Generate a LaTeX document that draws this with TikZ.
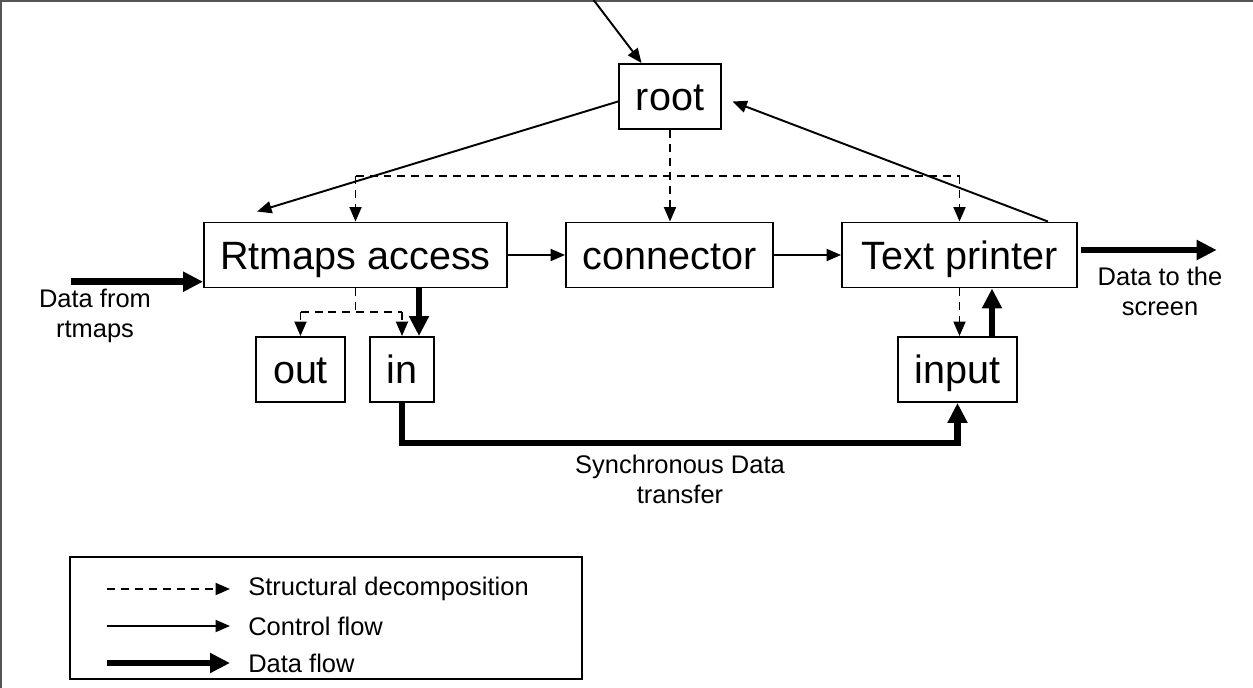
\documentclass[tikz,border=0pt]{standalone}
\usepackage{fontspec}
\setmainfont{Liberation Sans}
\usetikzlibrary{arrows.meta,calc,positioning}
\definecolor{framegray}{RGB}{85,85,85}

\begin{document}
\begin{tikzpicture}[x=0.02cm, y=-0.02cm,
  every node/.style={inner sep=0pt},
  block/.style={draw, line width=1.1pt, font=\fontsize{22.5}{27}\selectfont, minimum height=1.3cm,
    text height=0.57cm, text depth=0cm},
  lbl/.style={font=\fontsize{14.5}{17}\selectfont, align=center},
  ctrl/.style={line width=1.1pt, -{Triangle[length=0.29cm, width=0.24cm]}},
  struct/.style={ctrl, dash pattern=on 0.16cm off 0.12cm},
  dashline/.style={line width=1.1pt, dash pattern=on 0.16cm off 0.12cm},
  datafl/.style={line width=3.9pt, -{Triangle[length=0.4cm, width=0.38cm]}}
]
  \useasboundingbox (0,0) rectangle (1253,688);
  \draw[framegray, line width=1.1pt] (1,688) -- (1,1) -- (1253,1);

  \def\rowA{96.5}\def\rowB{255}\def\rowC{369.5}

  % blocks
  \node[block, minimum width=2.04cm] (root) at (670,\rowA) {root};
  \node[block, minimum width=6.06cm] (rtmaps) at (355.5,\rowB) {Rtmaps access};
  \node[block, minimum width=4.14cm] (connector) at (669.5,\rowB) {connector};
  \node[block, minimum width=4.7cm] (printer) at (959.5,\rowB) {Text printer};
  \node[block, minimum width=1.78cm] (outport) at (300.5,\rowC) {out};
  \node[block, minimum width=1.28cm] (inport) at (402,\rowC) {in};
  \node[block, minimum width=2.38cm] (input) at (957.5,\rowC) {input};

  % helper points
  \coordinate (entry) at (593.6,0);
  \coordinate (bus) at (0,176);
  \coordinate (sub) at (0,312);
  \coordinate (sync) at (0,443);
  \coordinate (source) at (70.7,281.7);
  \coordinate (screen) at (1216.7,250);

  % control flow
  \draw[ctrl] (entry) -- ([xshift=0.47cm]root.north west);
  \draw[ctrl] ([yshift=-0.1cm]root.west) -- ([xshift=1.08cm, yshift=0.2cm]rtmaps.north west);
  \draw[ctrl] ([xshift=-0.6cm]printer.north east) -- ([xshift=0.21cm, yshift=-0.1cm]root.east);
  \draw[ctrl] (rtmaps) -- (connector);
  \draw[ctrl] (connector) -- (printer);

  % structural decomposition
  \draw[struct] (root.south) -- (root.south |- connector.north);
  \draw[dashline] (rtmaps.north |- bus) -- (printer.north |- bus);
  \draw[struct] (rtmaps.north |- bus) -- (rtmaps.north);
  \draw[struct] (printer.north |- bus) -- (printer.north);
  \draw[dashline] (rtmaps.south) -- (rtmaps.south |- sub);
  \draw[dashline] (outport.north |- sub) -- (inport.north |- sub);
  \draw[struct] (outport.north |- sub) -- (outport.north);
  \draw[struct] (inport.north |- sub) -- (inport.north);
  \draw[struct] (printer.south) -- (printer.south |- input.north);

  % data flow
  \draw[datafl] (source) -- (source -| rtmaps.west);
  \draw[datafl, shorten <=0.06cm] (printer.east |- screen) -- (screen);
  \draw[datafl] ([xshift=0.34cm]inport.north |- rtmaps.south) -- ([xshift=0.34cm]inport.north);
  \draw[datafl] ([xshift=0.69cm]input.north) -- ([xshift=0.69cm]input.north |- printer.south);
  \draw[datafl] (inport.south) -- (inport.south |- sync) -- (input.south |- sync) -- (input.south);

  % labels
  \node[lbl] (fromrt) at (95,316) {Data from\\rtmaps};
  \node[lbl] (toscreen) at (1160,291) {Data to the\\screen};
  \node[lbl] (synclbl) at (680,479) {Synchronous Data\\transfer};

  % legend
  \node[draw, line width=1.1pt, minimum width=10.24cm, minimum height=2.44cm] (legend) at (326,618) {};
  \draw[struct] (107,589) -- (230,589);
  \draw[ctrl] (107,626) -- (230,626);
  \draw[datafl] (107,663) -- (230,663);
  \node[lbl, anchor=west] (legA) at (248,589) {Structural decomposition};
  \node[lbl, anchor=west] (legB) at (248,626) {Control flow};
  \node[lbl, anchor=west] (legC) at (248,663) {Data flow};
\end{tikzpicture}
\end{document}
